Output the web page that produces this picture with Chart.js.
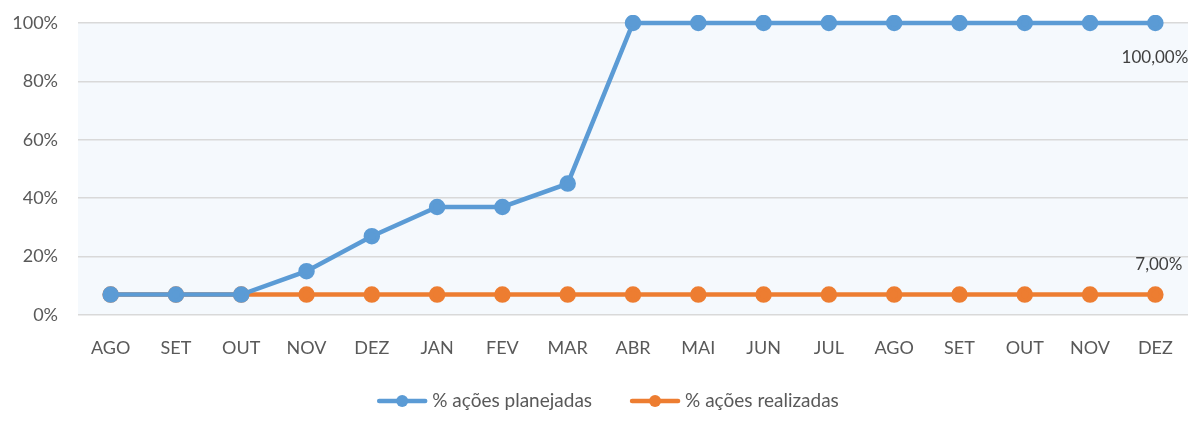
<!DOCTYPE html>
<html>
<head>
<meta charset="utf-8">
<script src="https://cdn.jsdelivr.net/npm/chart.js@4.4.0/dist/chart.umd.min.js"></script>
<style>
  html, body { margin: 0; padding: 0; background: #ffffff; }
  #wrap { width: 1192px; height: 430px; position: relative; }
</style>
</head>
<body>
<div id="wrap"><canvas id="chart"></canvas></div>
<script>
const months = ['AGO', 'SET', 'OUT', 'NOV', 'DEZ', 'JAN', 'FEV', 'MAR', 'ABR', 'MAI', 'JUN', 'JUL', 'AGO', 'SET', 'OUT', 'NOV', 'DEZ'];
const planejadas = [7, 7, 7, 15, 27, 37, 37, 45, 100, 100, 100, 100, 100, 100, 100, 100, 100];
const realizadas = [7, 7, 7, 7, 7, 7, 7, 7, 7, 7, 7, 7, 7, 7, 7, 7, 7];
const yTicks = [0, 20, 40, 60, 80, 100];

const BLUE = '#5B9BD5';
const ORANGE = '#ED7D31';
const FONT = 'Lato';

const plotBg = {
    id: 'plotBg',
    beforeDraw(chart) {
        const { ctx, chartArea: a } = chart;
        ctx.save();
        ctx.fillStyle = '#F5F9FD';
        ctx.fillRect(a.left, a.top, a.right - a.left, a.bottom - a.top);
        ctx.restore();
    }
};

// value labels on the last point of each line
const lastLabels = {
    id: 'lastLabels',
    afterDatasetsDraw(chart) {
        const ctx = chart.ctx;
        ctx.save();
        ctx.font = '17px ' + FONT;
        ctx.fillStyle = '#404040';
        ctx.textAlign = 'right';
        ctx.textBaseline = 'middle';
        chart.data.datasets.forEach((ds, i) => {
            const meta = chart.getDatasetMeta(i);
            const n = ds.data.length - 1;
            const pt = meta.data[n];
            const txt = ds.data[n].toFixed(2).replace('.', ',') + '%';
            const dy = i === 0 ? 35 : -30;
            const dx = i === 0 ? 33 : 27;
            ctx.fillText(txt, pt.x + dx, pt.y + dy);
        });
        ctx.restore();
    }
};

// legend drawn by hand: line with a dot, then the label
const bottomLegend = {
    id: 'bottomLegend',
    afterDraw(chart) {
        const ctx = chart.ctx;
        const y = 401, markW = 50, gapText = 5, gapItem = 38, centerX = 608;
        ctx.save();
        ctx.font = '19px ' + FONT;
        ctx.textBaseline = 'middle';
        const items = chart.data.datasets.map(ds => ({
            text: ds.label, color: ds.borderColor, w: ctx.measureText(ds.label).width
        }));
        let total = items.reduce((s, it) => s + markW + gapText + it.w, 0) + gapItem * (items.length - 1);
        let x = centerX - total / 2;
        items.forEach(it => {
            ctx.strokeStyle = it.color;
            ctx.lineWidth = 4.5;
            ctx.lineCap = 'round';
            ctx.beginPath(); ctx.moveTo(x + 2, y); ctx.lineTo(x + markW - 2, y); ctx.stroke();
            ctx.fillStyle = it.color;
            ctx.beginPath(); ctx.arc(x + markW / 2, y, 6, 0, Math.PI * 2); ctx.fill();
            ctx.fillStyle = '#595959';
            ctx.textAlign = 'left';
            ctx.fillText(it.text, x + markW + gapText, y);
            x += markW + gapText + it.w + gapItem;
        });
        ctx.restore();
    }
};

new Chart(document.getElementById('chart'), {
    type: 'line',
    data: {
        labels: months,
        datasets: [
            {
                label: '% ações planejadas',
                data: planejadas,
                borderColor: BLUE,
                backgroundColor: BLUE,
                borderWidth: 4.5,
                pointRadius: 6,
                pointHoverRadius: 6,
                tension: 0,
                clip: 8
            },
            {
                label: '% ações realizadas',
                data: realizadas,
                borderColor: ORANGE,
                backgroundColor: ORANGE,
                borderWidth: 4.5,
                pointRadius: 6,
                pointHoverRadius: 6,
                tension: 0,
                clip: 8
            }
        ]
    },
    options: {
        responsive: true,
        maintainAspectRatio: false,
        animation: false,
        layout: { autoPadding: false, padding: { top: 23, right: 4, left: 0, bottom: 63 } },
        plugins: {
            tooltip: { enabled: false },
            legend: { display: false }
        },
        scales: {
            x: {
                offset: true,
                grid: { display: false },
                border: { display: false },
                ticks: {
                    color: '#595959',
                    font: { family: FONT, size: 18 },
                    padding: 14,
                    maxRotation: 0,
                    autoSkip: false
                },
                afterFit(scale) { scale.height = 52; }
            },
            y: {
                min: 0,
                max: 100,
                afterBuildTicks(scale) { scale.ticks = yTicks.map(v => ({ value: v })); },
                grid: { color: '#D9D9D9', lineWidth: 1.5, drawTicks: false },
                border: { display: false },
                ticks: {
                    color: '#595959',
                    font: { family: FONT, size: 18 },
                    padding: 20,
                    callback: v => v + '%'
                },
                afterFit(scale) {
                    scale.width = 78;
                    scale.paddingTop = 10;
                    scale.paddingBottom = 10;
                }
            }
        }
    },
    plugins: [plotBg, lastLabels, bottomLegend]
});
</script>
</body>
</html>
